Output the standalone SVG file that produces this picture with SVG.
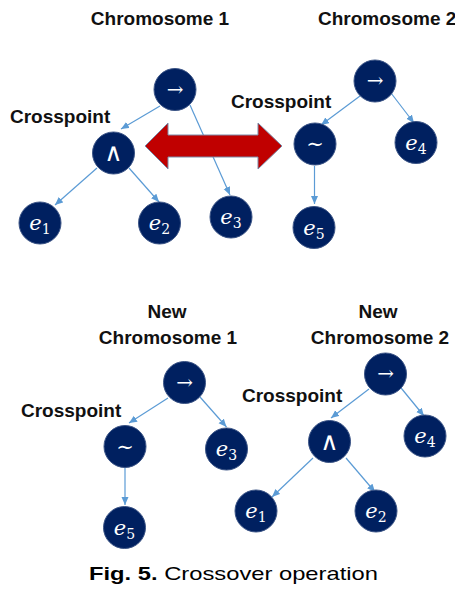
<svg xmlns="http://www.w3.org/2000/svg" width="455" height="590" viewBox="0 0 455 590">
  <defs>
    <style>
      .lbl { font-family: "Liberation Sans", Arial, sans-serif; font-weight: bold; font-size: 19px; fill: #111111; }
      .cap { font-family: "Liberation Sans", Arial, sans-serif; font-size: 19px; fill: #000000; }
      .node { fill: #002060; stroke: #3B5486; stroke-width: 1; }
      .op { font-family: "DejaVu Serif", "Liberation Serif", serif; fill: #ffffff; text-anchor: middle; }
      .and { font-family: "DejaVu Sans", sans-serif; font-size: 25px; fill: #ffffff; text-anchor: middle; }
      .ev { font-family: "DejaVu Serif", "Liberation Serif", serif; font-size: 21px; font-style: italic; fill: #ffffff; text-anchor: middle; }
      .sub { font-size: 14px; font-style: normal; }
      .edge { stroke: #5B9BD5; stroke-width: 1.2; fill: none; marker-end: url(#tip); }
    </style>
    <marker id="tip" markerUnits="userSpaceOnUse" markerWidth="9" markerHeight="8" refX="8" refY="3.5" orient="auto">
      <path d="M0,0 L8,3.5 L0,7 z" fill="#5B9BD5"/>
    </marker>
  </defs>
  <rect width="455" height="590" fill="#ffffff"/>

  <!-- titles and crosspoint labels -->
  <g id="labels">
    <text class="lbl" x="160" y="25" text-anchor="middle">Chromosome 1</text>
    <text class="lbl" x="318" y="25">Chromosome 2</text>
    <text class="lbl" x="10" y="123">Crosspoint</text>
    <text class="lbl" x="231" y="108">Crosspoint</text>
    <text class="lbl" x="167" y="318" text-anchor="middle">New</text>
    <text class="lbl" x="168" y="344" text-anchor="middle">Chromosome 1</text>
    <text class="lbl" x="21" y="417">Crosspoint</text>
    <text class="lbl" x="378" y="318" text-anchor="middle">New</text>
    <text class="lbl" x="380" y="344" text-anchor="middle">Chromosome 2</text>
    <text class="lbl" x="242" y="402">Crosspoint</text>
  </g>

  <!-- connectors -->
  <g id="connectors">
    <line class="edge" x1="160" y1="106" x2="121" y2="129"/>
    <line class="edge" x1="190" y1="105" x2="230" y2="195"/>
    <line class="edge" x1="97" y1="168" x2="55" y2="205"/>
    <line class="edge" x1="129" y1="168" x2="159" y2="202"/>

    <line class="edge" x1="360" y1="96" x2="321" y2="125"/>
    <line class="edge" x1="391" y1="93" x2="414" y2="123"/>
    <line class="edge" x1="314.5" y1="166" x2="314.5" y2="204"/>

    <line class="edge" x1="168" y1="398" x2="129" y2="423"/>
    <line class="edge" x1="200" y1="397" x2="226.5" y2="427"/>
    <line class="edge" x1="125" y1="467" x2="125" y2="505"/>

    <line class="edge" x1="369" y1="389" x2="331" y2="418"/>
    <line class="edge" x1="397" y1="383" x2="424" y2="416"/>
    <line class="edge" x1="313" y1="458" x2="272" y2="497"/>
    <line class="edge" x1="346" y1="458" x2="375" y2="492"/>
  </g>

  <!-- exchange arrow between the two parents -->
  <g id="swap">
    <polygon points="145,146 168,123 168,135 258,135 258,123 282,146 258,169 258,157 168,157 168,169" fill="#C00000" stroke="#7A8BA8" stroke-width="1"/>
  </g>

  <!-- chromosome 1 -->
  <g id="c1-root" transform="translate(175,89.5)"><circle class="node" r="21"/><text class="op" y="6" font-size="20">→</text></g>
  <g id="c1-and" transform="translate(113.5,153)"><circle class="node" r="21"/><text class="and" y="8">∧</text></g>
  <g id="c1-e1" transform="translate(40,223)"><circle class="node" r="21"/><text class="ev" y="7">e<tspan class="sub" dy="4">1</tspan></text></g>
  <g id="c1-e2" transform="translate(159.5,223)"><circle class="node" r="21"/><text class="ev" y="7">e<tspan class="sub" dy="4">2</tspan></text></g>
  <g id="c1-e3" transform="translate(231,217)"><circle class="node" r="21"/><text class="ev" y="7">e<tspan class="sub" dy="4">3</tspan></text></g>

  <!-- chromosome 2 -->
  <g id="c2-root" transform="translate(375,81)"><circle class="node" r="21"/><text class="op" y="6" font-size="20">→</text></g>
  <g id="c2-not" transform="translate(315,144)"><circle class="node" r="21"/><text class="op" y="7" font-size="21">∼</text></g>
  <g id="c2-e4" transform="translate(416,142.5)"><circle class="node" r="21"/><text class="ev" y="7">e<tspan class="sub" dy="4">4</tspan></text></g>
  <g id="c2-e5" transform="translate(314,227.5)"><circle class="node" r="21"/><text class="ev" y="7">e<tspan class="sub" dy="4">5</tspan></text></g>

  <!-- new chromosome 1 -->
  <g id="n1-root" transform="translate(184.5,382.5)"><circle class="node" r="21"/><text class="op" y="6" font-size="20">→</text></g>
  <g id="n1-not" transform="translate(125,446.5)"><circle class="node" r="21"/><text class="op" y="7" font-size="21">∼</text></g>
  <g id="n1-e3" transform="translate(226.5,449)"><circle class="node" r="21"/><text class="ev" y="7">e<tspan class="sub" dy="4">3</tspan></text></g>
  <g id="n1-e5" transform="translate(124.5,527.5)"><circle class="node" r="21"/><text class="ev" y="7">e<tspan class="sub" dy="4">5</tspan></text></g>

  <!-- new chromosome 2 -->
  <g id="n2-root" transform="translate(385.5,374)"><circle class="node" r="21"/><text class="op" y="6" font-size="20">→</text></g>
  <g id="n2-and" transform="translate(329.5,441.5)"><circle class="node" r="21"/><text class="and" y="8">∧</text></g>
  <g id="n2-e4" transform="translate(425,436)"><circle class="node" r="21"/><text class="ev" y="7">e<tspan class="sub" dy="4">4</tspan></text></g>
  <g id="n2-e1" transform="translate(256,511)"><circle class="node" r="21"/><text class="ev" y="7">e<tspan class="sub" dy="4">1</tspan></text></g>
  <g id="n2-e2" transform="translate(376,511)"><circle class="node" r="21"/><text class="ev" y="7">e<tspan class="sub" dy="4">2</tspan></text></g>

  <!-- caption -->
  <g id="caption">
    <text class="cap" x="89" y="580" textLength="289" lengthAdjust="spacingAndGlyphs"><tspan font-weight="bold">Fig. 5.</tspan> Crossover operation</text>
  </g>
</svg>
